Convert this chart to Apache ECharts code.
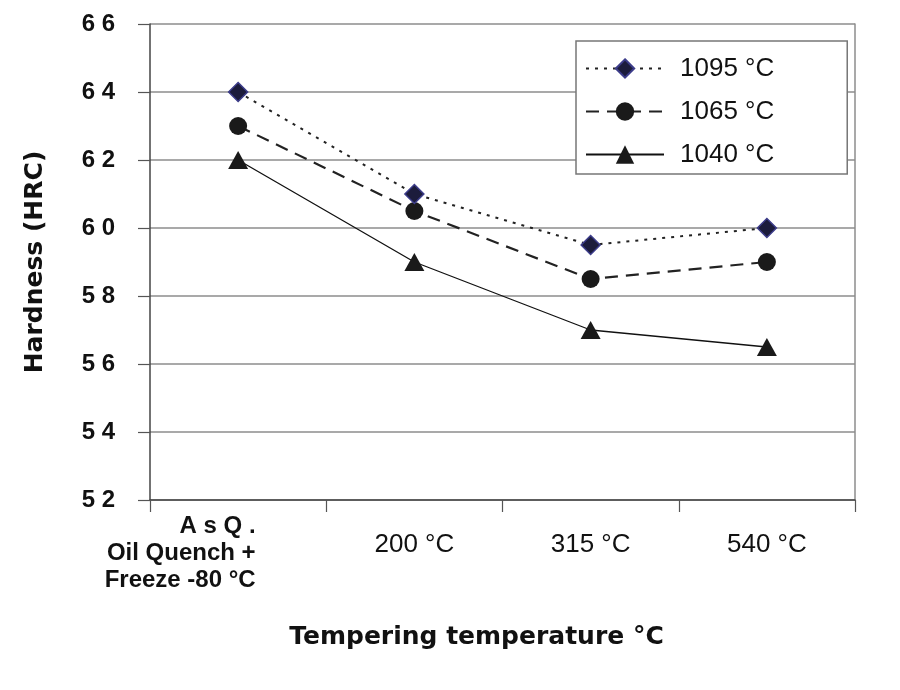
<!DOCTYPE html>
<html>
<head>
<meta charset="utf-8">
<script src="https://cdn.jsdelivr.net/npm/echarts@6/dist/echarts.min.js"></script>
<style>
html,body{margin:0;padding:0;background:#fff;}
#chart{width:900px;height:690px;}
</style>
</head>
<body>
<div id="chart"></div>
<script>
var categories = ['A s Q .\nOil Quench +\nFreeze -80 °C', '200 °C', '315 °C', '540 °C'];
var seriesNames = ['1095 °C', '1065 °C', '1040 °C'];
var hardness1095 = [64, 61, 59.5, 60];
var hardness1065 = [63, 60.5, 58.5, 59];
var hardness1040 = [62, 59, 57, 56.5];
var yTicks = [52, 54, 56, 58, 60, 62, 64, 66];

var chart = echarts.init(document.getElementById('chart'), null, {renderer: 'canvas'});
var boldSans = 'Liberation Sans, Arial, sans-serif';
var heavy = 'DejaVu Sans, sans-serif';

var option = {
  backgroundColor: '#ffffff',
  animation: false,
  grid: {left: 150, right: 45, top: 24, bottom: 190, containLabel: false},
  legend: {
    orient: 'vertical',
    left: 576, top: 41,
    data: seriesNames,
    itemWidth: 78, itemHeight: 23, itemGap: 16,
    padding: [14, 73, 6, 9],
    backgroundColor: '#ffffff',
    borderColor: '#777777', borderWidth: 1.5,
    textStyle: {fontFamily: boldSans, fontSize: 26, lineHeight: 27, color: '#111', padding: [0, 0, 0, 11]}
  },
  xAxis: {
    type: 'category',
    data: categories,
    boundaryGap: true,
    axisLine: {show: true, lineStyle: {color: '#444', width: 1.5}},
    axisTick: {show: true, length: 12, alignWithLabel: false, lineStyle: {color: '#555', width: 1.2}},
    axisLabel: {
      margin: 13,
      interval: 0,
      color: '#111',
      formatter: function (v, i) {
        if (i === 0) {
          return v.split('\n').map(function (l) { return '{q|' + l + '}{sp|\u00a0}'; }).join('\n');
        }
        return '{n|' + v + '}';
      },
      rich: {
        q: {fontFamily: boldSans, fontWeight: 'bold', fontSize: 24, lineHeight: 27, align: 'right', color: '#111'},
        sp: {width: 116, fontSize: 10, lineHeight: 27, align: 'right'},
        n: {fontFamily: boldSans, fontSize: 26, lineHeight: 27, padding: [37, 0, 0, 0], color: '#111'}
      }
    },
    name: 'Tempering temperature °C',
    nameLocation: 'middle',
    nameGap: 125,
    nameTextStyle: {fontFamily: heavy, fontWeight: 'bold', fontSize: 25, color: '#111', padding: [0, 52, 0, 0]},
    splitLine: {show: false}
  },
  yAxis: [{
    type: 'value',
    min: yTicks[0], max: yTicks[yTicks.length - 1], interval: 2,
    axisLine: {show: true, lineStyle: {color: '#444', width: 1.5}},
    axisTick: {show: true, length: 12, lineStyle: {color: '#555', width: 1.2}},
    axisLabel: {
      margin: 35, color: '#111',
      fontFamily: boldSans, fontWeight: 'bold', fontSize: 24,
      formatter: function (v) { return String(v).split('').join(' '); }
    },
    splitLine: {show: true, lineStyle: {color: '#8c8c8c', width: 1.5}},
    name: 'Hardness (HRC)',
    nameLocation: 'middle',
    nameGap: 102,
    nameTextStyle: {fontFamily: heavy, fontWeight: 'bold', fontSize: 25, color: '#111'}
  }, {
    type: 'value', position: 'right',
    min: yTicks[0], max: yTicks[yTicks.length - 1], interval: 2,
    axisLine: {show: true, lineStyle: {color: '#8c8c8c', width: 1.5}},
    axisTick: {show: false}, axisLabel: {show: false}, splitLine: {show: false}
  }],
  series: [{
    name: seriesNames[0], type: 'line', data: hardness1095,
    symbol: 'diamond', symbolSize: 19,
    itemStyle: {color: '#1c1c3c', borderColor: '#3c3c8a', borderWidth: 1.5},
    lineStyle: {color: '#222', width: 2, type: [3, 6]},
    z: 4
  }, {
    name: seriesNames[1], type: 'line', data: hardness1065,
    symbol: 'circle', symbolSize: 18,
    itemStyle: {color: '#1a1a1a'},
    lineStyle: {color: '#222', width: 2.2, type: [13, 8]},
    z: 3
  }, {
    name: seriesNames[2], type: 'line', data: hardness1040,
    symbol: 'triangle', symbolSize: [20, 18],
    itemStyle: {color: '#1a1a1a'},
    lineStyle: {color: '#111', width: 1.3, type: 'solid'},
    z: 2
  }]
};
chart.setOption(option);
</script>
</body>
</html>
